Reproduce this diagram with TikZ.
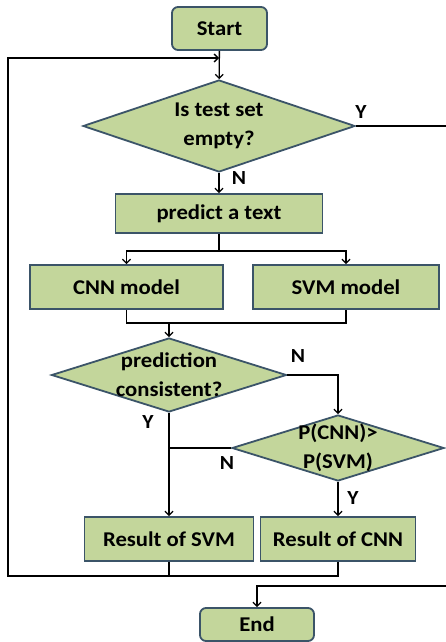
\documentclass[tikz,border=0pt]{standalone}
\usepackage{fontspec}
\setmainfont{Carlito}[FakeStretch=1.08]
\usetikzlibrary{shapes.geometric,arrows.meta}
\definecolor{boxfill}{HTML}{C3D69B}
\definecolor{boxline}{HTML}{3B5468}

\begin{document}
\begin{tikzpicture}[x=1pt,y=-1pt,line width=1.3pt,>={Straight Barb[length=4pt,width=8pt]}]
  \useasboundingbox (0,0) rectangle (445,642);
  \fill[white] (0,0) rectangle (445,642);

  % start / end
  \begin{scope}[every node/.style={draw=boxline,fill=boxfill,line width=1.8pt,rounded corners=6pt,
      inner sep=0pt,font=\fontsize{21}{25}\selectfont\bfseries}]
    \node[minimum width=95pt,minimum height=43pt] (start) at (219.5,28.5) {Start};
    \node[minimum width=114pt,minimum height=33pt] (end) at (257,624.5) {End};
  \end{scope}

  % boxes
  \begin{scope}[every node/.style={draw=boxline,fill=boxfill,line width=1.8pt,minimum height=44pt,
      inner sep=0pt,font=\fontsize{21}{25}\selectfont\bfseries}]
    \node[minimum width=207pt,minimum height=39pt] (predict) at (219,213.5) {predict a text};
    \node[minimum width=193pt] (cnn) at (126.5,287) {CNN model};
    \node[minimum width=186pt] (svm) at (346,287) {SVM model};
    \node[minimum width=169pt] (ressvm) at (169,539) {Result of SVM};
    \node[minimum width=155pt] (rescnn) at (338,539) {Result of CNN};
  \end{scope}

  % decisions
  \begin{scope}[every node/.style={diamond,draw=boxline,fill=boxfill,line width=1.8pt,inner sep=-8pt,
      align=center,font=\fontsize{21}{29}\selectfont\bfseries}]
    \node[minimum width=272pt,minimum height=92pt,shape aspect=2.96] (empty) at (219,126) {Is test set\\empty?};
    \node[minimum width=235pt,minimum height=74pt,shape aspect=3.18] (consist) at (169,375) {prediction\\consistent?};
    \node[minimum width=212pt,minimum height=66pt,shape aspect=3.2] (compare) at (338,448) {P(CNN)>\\P(SVM)};
  \end{scope}

  % answers
  \begin{scope}[every node/.style={inner sep=0pt,font=\fontsize{20}{24}\selectfont\bfseries}]
    \node (y1) at (361,112) {Y};
    \node (n1) at (239,178) {N};
    \node (n2) at (298,356) {N};
    \node (y2) at (148,422) {Y};
    \node (n3) at (227,463) {N};
    \node (y3) at (353,498) {Y};
  \end{scope}

  \coordinate (join) at (219,58);
  \coordinate (split) at (219,251);
  \coordinate (merge) at (169,323);
  \coordinate (back) at (8,576);
  \coordinate (edge) at (448,586);

  \draw[->] (start) -- (empty);
  \draw[->] (empty) -- (predict);
  \draw (predict) -- (split);
  \draw[->] (split) -| (cnn);
  \draw[->] (split) -| (svm);
  \draw (cnn) |- (merge) -| (svm);
  \draw[->] (merge) -- (consist);
  \draw[->] (consist.east) -| (compare);
  \draw[->] (consist) -- (ressvm);
  \draw (compare.west) -- (compare.west -| consist.south);
  \draw[->] (compare) -- (rescnn);
  \draw (ressvm) -- (ressvm.south |- back);
  \draw[->] (rescnn) |- (back) -- (back |- join) -- (join);
  \draw[->] (empty.east) -| (edge) -| (end);

\end{tikzpicture}
\end{document}
